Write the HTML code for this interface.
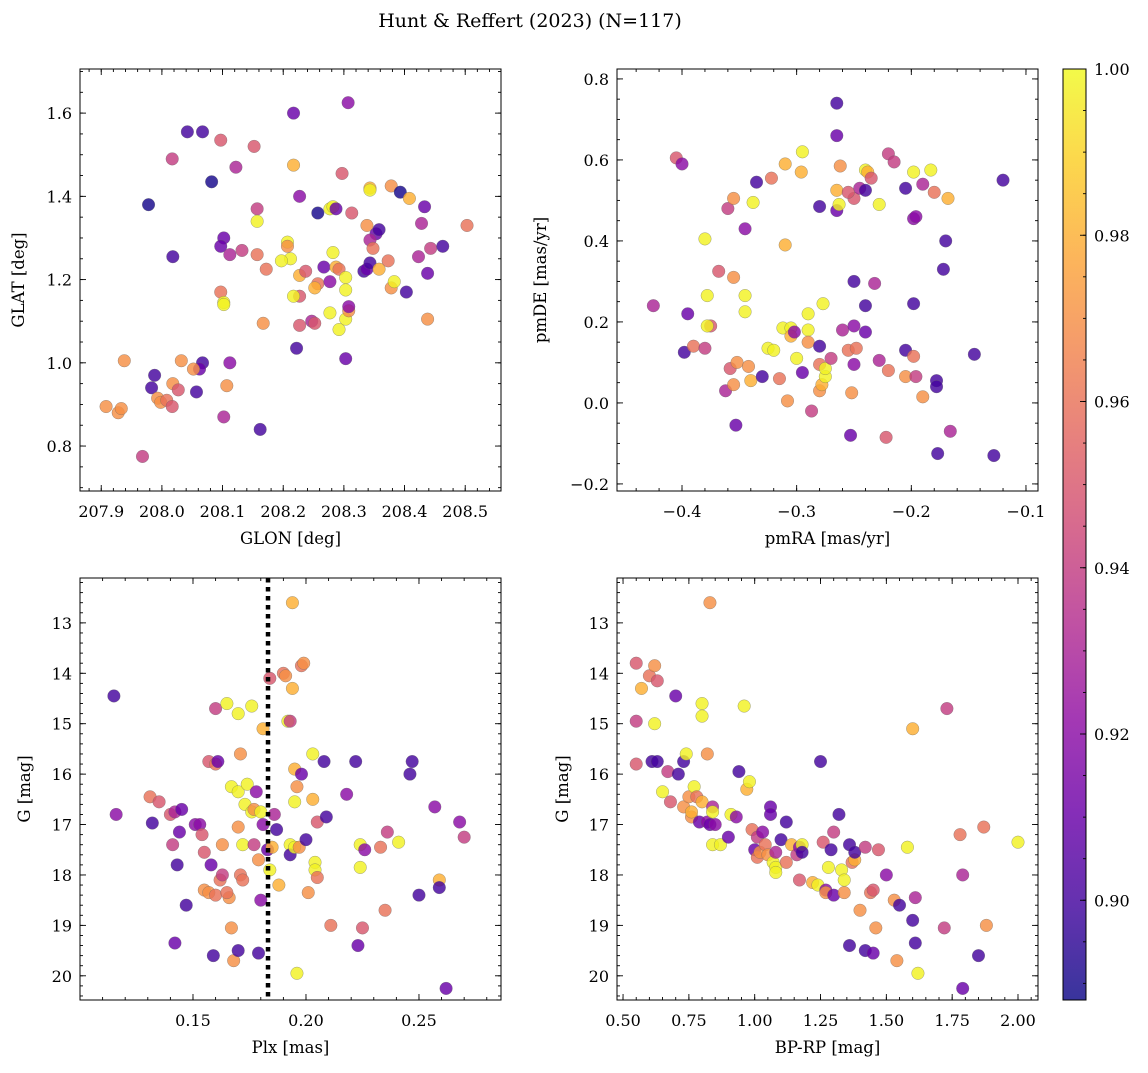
<!DOCTYPE html>
<html><head><meta charset="utf-8">
<style>
html,body{margin:0;padding:0;background:#fff;}
svg text{font-family:"DejaVu Serif","Liberation Serif",serif;fill:#000;}
</style></head>
<body>
<svg id="fig" width="1148" height="1068" viewBox="0 0 1148 1068" xmlns="http://www.w3.org/2000/svg">
<text x="530" y="27" font-size="19" text-anchor="middle">Hunt &amp; Reffert (2023) (N=117)</text>
<defs>
<linearGradient id="cbgrad" x1="0" y1="1" x2="0" y2="0">
<stop offset="0" stop-color="#0d0887"/><stop offset="0.1" stop-color="#41049d"/><stop offset="0.2" stop-color="#6a00a8"/><stop offset="0.3" stop-color="#8f0da4"/><stop offset="0.4" stop-color="#b12a90"/><stop offset="0.5" stop-color="#cc4778"/><stop offset="0.6" stop-color="#e16462"/><stop offset="0.7" stop-color="#f2844b"/><stop offset="0.8" stop-color="#fca636"/><stop offset="0.9" stop-color="#fcce25"/><stop offset="1" stop-color="#f0f921"/>
</linearGradient>
</defs>
</svg>
<script>
// ---- Panel 1: GLON / GLAT ----
const p1_glon=[207.978,208.042,208.067,208.082,208.017,208.097,208.152,208.122,208.217,208.307,208.102,208.097,208.112,208.132,208.157,208.157,208.157,208.172,208.207,208.207,208.212,208.217,208.227,208.197,208.227,208.237,208.227,208.217,208.257,208.267,208.277,208.282,208.287,208.282,208.297,208.313,208.257,208.252,208.277,208.287,208.292,208.303,208.303,208.277,208.292,208.303,208.308,208.308,208.247,208.252,208.227,208.222,208.303,208.338,208.343,208.343,208.378,208.393,208.408,208.353,208.358,208.343,208.348,208.333,208.338,208.343,208.358,208.378,208.373,208.383,208.403,208.433,208.428,208.423,208.443,208.438,208.463,208.503,208.438,208.167,208.097,208.102,208.102,208.018,208.067,208.062,208.052,208.032,208.018,207.983,207.988,207.938,207.993,207.998,208.008,208.017,208.027,208.057,208.112,208.107,208.102,207.908,207.928,207.933,207.968,208.162];
const p1_glat=[1.38,1.555,1.555,1.435,1.49,1.535,1.52,1.47,1.60,1.625,1.30,1.28,1.26,1.27,1.37,1.34,1.26,1.225,1.29,1.28,1.25,1.475,1.40,1.245,1.21,1.22,1.16,1.16,1.36,1.23,1.37,1.375,1.37,1.265,1.455,1.36,1.19,1.18,1.195,1.23,1.225,1.205,1.175,1.12,1.08,1.105,1.125,1.135,1.10,1.095,1.09,1.035,1.01,1.33,1.42,1.415,1.425,1.41,1.395,1.31,1.32,1.295,1.275,1.22,1.225,1.24,1.225,1.18,1.245,1.195,1.17,1.375,1.335,1.255,1.275,1.215,1.28,1.33,1.105,1.095,1.17,1.145,1.14,1.255,1.0,0.985,0.985,1.005,0.95,0.94,0.97,1.005,0.915,0.905,0.91,0.895,0.935,0.93,1.0,0.945,0.87,0.895,0.88,0.89,0.775,0.84];
const p1_c=[0.89,0.90,0.90,0.89,0.94,0.95,0.95,0.93,0.91,0.92,0.91,0.91,0.93,0.94,0.94,0.998,0.96,0.96,0.998,0.97,0.998,0.98,0.92,0.998,0.98,0.95,0.95,0.998,0.89,0.91,0.998,0.998,0.91,0.998,0.95,0.95,0.96,0.98,0.92,0.98,0.96,0.998,0.998,0.998,0.998,0.998,0.97,0.92,0.93,0.95,0.95,0.90,0.91,0.97,0.98,0.998,0.97,0.89,0.98,0.91,0.90,0.93,0.96,0.90,0.91,0.90,0.98,0.97,0.96,0.998,0.90,0.91,0.93,0.93,0.94,0.91,0.90,0.96,0.97,0.97,0.96,0.998,0.998,0.90,0.90,0.91,0.97,0.97,0.97,0.90,0.90,0.97,0.97,0.97,0.96,0.95,0.95,0.90,0.92,0.97,0.93,0.97,0.97,0.97,0.94,0.90];
const p1_xticks=["207.9","208.0","208.1","208.2","208.3","208.4","208.5"];
const p1_yticks=["0.8","1.0","1.2","1.4","1.6"];

// ---- Panel 2: pmRA / pmDE ----
const p2_pmra=[-0.405,-0.400,-0.425,-0.398,-0.395,-0.39,-0.38,-0.375,-0.378,-0.38,-0.378,-0.368,-0.36,-0.355,-0.355,-0.362,-0.358,-0.352,-0.355,-0.353,-0.345,-0.345,-0.345,-0.342,-0.34,-0.338,-0.335,-0.33,-0.325,-0.32,-0.322,-0.315,-0.312,-0.31,-0.31,-0.305,-0.305,-0.302,-0.30,-0.308,-0.296,-0.295,-0.29,-0.29,-0.295,-0.29,-0.287,-0.28,-0.28,-0.28,-0.28,-0.277,-0.278,-0.275,-0.275,-0.27,-0.265,-0.265,-0.265,-0.265,-0.263,-0.262,-0.26,-0.255,-0.25,-0.25,-0.25,-0.25,-0.252,-0.253,-0.248,-0.245,-0.24,-0.238,-0.24,-0.24,-0.24,-0.235,-0.232,-0.228,-0.228,-0.222,-0.22,-0.215,-0.22,-0.205,-0.205,-0.205,-0.198,-0.198,-0.196,-0.198,-0.198,-0.196,-0.19,-0.19,-0.183,-0.18,-0.178,-0.178,-0.177,-0.17,-0.172,-0.168,-0.166,-0.145,-0.12,-0.128,-0.255];
const p2_pmde=[0.605,0.59,0.24,0.125,0.22,0.14,0.135,0.19,0.19,0.405,0.265,0.325,0.48,0.505,0.31,0.03,0.085,0.10,0.045,-0.055,0.225,0.265,0.43,0.09,0.055,0.495,0.545,0.065,0.135,0.13,0.555,0.06,0.185,0.59,0.39,0.185,0.165,0.175,0.11,0.005,0.57,0.62,0.22,0.18,0.075,0.15,-0.02,0.14,0.485,0.095,0.03,0.245,0.045,0.065,0.085,0.11,0.525,0.74,0.66,0.475,0.49,0.585,0.18,0.13,0.505,0.30,0.19,0.095,0.025,-0.08,0.135,0.53,0.575,0.57,0.525,0.24,0.175,0.555,0.295,0.49,0.105,-0.085,0.615,0.595,0.08,0.53,0.13,0.065,0.57,0.455,0.46,0.245,0.115,0.065,0.54,0.015,0.575,0.52,0.055,0.04,-0.125,0.40,0.33,0.505,-0.07,0.12,0.55,-0.13,0.52];
const p2_c=[0.95,0.92,0.93,0.90,0.91,0.96,0.94,0.95,0.998,0.998,0.998,0.95,0.94,0.97,0.97,0.93,0.95,0.97,0.97,0.91,0.998,0.998,0.92,0.97,0.98,0.998,0.90,0.90,0.998,0.998,0.96,0.96,0.998,0.98,0.98,0.998,0.98,0.92,0.998,0.97,0.98,0.998,0.998,0.998,0.91,0.97,0.94,0.90,0.90,0.96,0.97,0.998,0.98,0.998,0.998,0.94,0.98,0.90,0.91,0.91,0.998,0.97,0.93,0.96,0.95,0.90,0.92,0.92,0.97,0.91,0.96,0.93,0.998,0.98,0.90,0.90,0.91,0.95,0.93,0.998,0.93,0.95,0.94,0.94,0.96,0.90,0.90,0.97,0.998,0.92,0.92,0.90,0.96,0.94,0.93,0.97,0.998,0.96,0.90,0.90,0.90,0.90,0.90,0.98,0.93,0.90,0.90,0.90,0.95];
const p2_xticks=["−0.4","−0.3","−0.2","−0.1"];
const p2_yticks=["−0.2","0.0","0.2","0.4","0.6","0.8"];

// ---- Panel 3: Plx / G ----
const p3_plx=[0.115,0.116,0.131,0.132,0.135,0.14,0.142,0.141,0.143,0.144,0.145,0.142,0.147,0.151,0.153,0.154,0.155,0.155,0.157,0.158,0.157,0.16,0.161,0.16,0.159,0.16,0.162,0.163,0.163,0.166,0.165,0.168,0.167,0.167,0.165,0.17,0.171,0.17,0.17,0.171,0.172,0.17,0.173,0.174,0.172,0.176,0.176,0.177,0.177,0.178,0.18,0.179,0.179,0.18,0.181,0.181,0.183,0.184,0.184,0.185,0.186,0.188,0.187,0.19,0.191,0.192,0.193,0.194,0.194,0.195,0.195,0.196,0.193,0.193,0.195,0.197,0.198,0.198,0.199,0.2,0.201,0.196,0.203,0.203,0.204,0.204,0.205,0.205,0.208,0.209,0.211,0.218,0.222,0.223,0.224,0.224,0.225,0.226,0.233,0.235,0.236,0.241,0.246,0.247,0.25,0.257,0.259,0.259,0.262,0.268,0.27];
const p3_g=[14.45,16.8,16.45,16.97,16.55,16.8,16.75,17.4,17.8,17.15,16.7,19.35,18.6,17.0,17.0,17.2,17.55,18.3,18.35,17.8,15.75,15.8,15.75,14.7,19.6,18.4,18.1,18.0,17.4,18.45,18.35,19.7,19.05,16.25,14.6,14.8,15.6,16.35,17.05,18.0,18.1,19.5,16.6,16.2,17.4,14.65,16.75,16.7,17.4,16.35,16.75,17.7,19.55,18.5,15.1,17.0,17.5,14.1,17.9,17.45,16.8,18.2,17.1,14.0,14.05,14.95,14.95,12.6,14.3,16.55,15.9,16.25,17.4,17.6,17.45,17.45,16.0,13.85,13.8,17.3,18.35,19.95,15.6,16.5,17.75,17.9,16.95,18.05,15.75,16.85,19.0,16.4,15.75,19.4,17.4,17.85,19.05,17.5,17.45,18.7,17.15,17.35,16.0,15.75,18.4,16.65,18.1,18.25,20.25,16.95,17.25];
const p3_c=[0.90,0.92,0.96,0.90,0.95,0.95,0.93,0.94,0.90,0.91,0.91,0.91,0.90,0.92,0.92,0.95,0.95,0.97,0.97,0.91,0.95,0.96,0.91,0.94,0.90,0.96,0.96,0.94,0.97,0.97,0.96,0.97,0.97,0.998,0.998,0.998,0.97,0.998,0.97,0.96,0.96,0.90,0.998,0.998,0.998,0.998,0.998,0.97,0.94,0.92,0.998,0.97,0.90,0.92,0.98,0.92,0.91,0.95,0.998,0.98,0.93,0.98,0.90,0.96,0.97,0.998,0.94,0.98,0.98,0.998,0.98,0.97,0.998,0.90,0.998,0.97,0.91,0.96,0.97,0.90,0.97,0.998,0.998,0.98,0.998,0.998,0.95,0.96,0.90,0.90,0.96,0.92,0.90,0.91,0.998,0.998,0.95,0.92,0.96,0.96,0.94,0.998,0.90,0.90,0.90,0.92,0.98,0.90,0.91,0.92,0.94];
const p3_xticks=["0.15","0.20","0.25"];
const p3_yticks=["13","14","15","16","17","18","19","20"];
const p3_plxline=[0.1832];

// ---- Panel 4: BP-RP / G ----
const p4_bprp=[0.55,0.55,0.55,0.57,0.6,0.62,0.63,0.61,0.63,0.62,0.65,0.67,0.68,0.7,0.71,0.73,0.74,0.73,0.75,0.76,0.77,0.76,0.78,0.79,0.8,0.8,0.8,0.82,0.82,0.83,0.84,0.84,0.84,0.85,0.87,0.83,0.9,0.91,0.93,0.94,0.96,0.97,0.98,0.99,1.0,1.01,1.01,1.03,1.02,1.04,1.05,1.06,1.06,1.07,1.08,1.08,1.08,1.1,1.12,1.12,1.14,1.16,1.17,1.17,1.18,1.18,1.22,1.24,1.25,1.26,1.27,1.27,1.28,1.29,1.3,1.3,1.32,1.33,1.34,1.34,1.36,1.36,1.37,1.38,1.38,1.4,1.42,1.42,1.44,1.45,1.45,1.46,1.47,1.5,1.53,1.54,1.55,1.58,1.6,1.6,1.61,1.61,1.62,1.72,1.73,1.78,1.79,1.79,1.85,1.87,1.88,2.0];
const p4_g=[13.8,14.95,15.8,14.3,14.05,13.85,14.15,15.75,15.75,15.0,16.35,15.95,16.55,14.45,16.0,15.75,15.6,16.65,16.45,16.85,16.25,16.75,16.45,16.95,16.55,14.6,14.85,15.6,16.95,17.0,16.65,16.75,17.4,17.0,17.4,12.6,17.25,16.8,16.85,15.95,14.65,16.3,16.15,17.1,17.5,17.25,17.65,17.15,17.55,17.4,17.6,16.65,16.8,17.75,17.85,17.95,17.55,17.3,17.75,16.95,17.4,17.6,17.45,18.1,17.4,17.55,18.15,18.2,15.75,17.35,18.3,18.35,17.85,17.5,17.15,18.4,16.8,17.9,18.35,18.1,17.4,19.4,17.75,17.7,17.55,18.7,17.45,19.5,18.35,18.3,19.55,19.05,17.5,18.0,18.5,19.7,18.6,17.45,15.1,18.9,18.45,19.35,19.95,19.05,14.7,17.2,18.0,20.25,19.6,17.05,19.0,17.35];
const p4_c=[0.95,0.94,0.95,0.98,0.96,0.97,0.95,0.90,0.90,0.998,0.998,0.94,0.95,0.91,0.90,0.90,0.998,0.97,0.97,0.97,0.998,0.98,0.96,0.91,0.98,0.998,0.998,0.97,0.92,0.91,0.93,0.998,0.998,0.92,0.998,0.97,0.91,0.998,0.92,0.90,0.998,0.98,0.998,0.96,0.91,0.94,0.96,0.92,0.97,0.96,0.97,0.91,0.91,0.998,0.998,0.998,0.93,0.90,0.96,0.90,0.98,0.94,0.92,0.95,0.998,0.90,0.98,0.998,0.90,0.95,0.92,0.97,0.998,0.90,0.94,0.91,0.90,0.998,0.97,0.998,0.90,0.90,0.96,0.98,0.90,0.97,0.94,0.90,0.96,0.95,0.91,0.97,0.95,0.92,0.97,0.97,0.90,0.998,0.98,0.90,0.93,0.90,0.998,0.94,0.94,0.96,0.93,0.91,0.90,0.96,0.97,0.998];
const p4_xticks=["0.50","0.75","1.00","1.25","1.50","1.75","2.00"];
const p4_yticks=p3_yticks;

// ---- Colorbar ----
const cb_range=[0.888,1.0];
const cb_ticks=["0.90","0.92","0.94","0.96","0.98","1.00"];

const NS="http://www.w3.org/2000/svg";
const svg=document.getElementById('fig');
function mk(tag,attrs,parent){const e=document.createElementNS(NS,tag);for(const k in attrs)e.setAttribute(k,attrs[k]);(parent||svg).appendChild(e);return e;}
const stops=[[13,8,135],[65,4,157],[106,0,168],[143,13,164],[177,42,144],[204,71,120],[225,100,98],[242,132,75],[252,166,54],[252,206,37],[240,249,33]];
function plasma(t){t=Math.max(0,Math.min(1,t));const f=t*10,i=Math.min(9,Math.floor(f)),r=f-i;const a=stops[i],b=stops[i+1];return 'rgb('+a.map((v,k)=>Math.round(v+(b[k]-v)*r)).join(',')+')';}
function cmap(c){return plasma((c-cb_range[0])/(cb_range[1]-cb_range[0]));}

function panel(o){
  const g=mk('g',{});
  
  
  const sx=v=>o.x0+(v-o.xd[0])/(o.xd[1]-o.xd[0])*(o.x1-o.x0);
  const sy=v=>o.inv? o.y0+(v-o.yd[0])/(o.yd[1]-o.yd[0])*(o.y1-o.y0) : o.y1-(v-o.yd[0])/(o.yd[1]-o.yd[0])*(o.y1-o.y0);
  const pts=mk('g',{},g);
  
  
  for(let i=0;i<o.xs.length;i++){
    const c=mk('circle',{cx:sx(o.xs[i]),cy:sy(o.ys[i]),r:6.3,fill:cmap(o.cs[i]),'fill-opacity':0.82,stroke:'#666','stroke-opacity':0.6,'stroke-width':0.5},pts);
    
    
  }
  if(o.vline){for(const v of o.vline){const l=mk('line',{x1:sx(v),x2:sx(v),y1:o.y0,y2:o.y1,stroke:'#000','stroke-width':4.5,'stroke-dasharray':'4.5,4.5'},g);
    
    }}
  const fr=mk('rect',{x:o.x0,y:o.y0,width:o.x1-o.x0,height:o.y1-o.y0,fill:'none',stroke:'#000','stroke-width':1},g);
  
  
  const tk=mk('g',{stroke:'#000','stroke-width':0.9},g);
  
  
  const eps=1e-9;
  for(let v=Math.ceil(o.xd[0]/o.xmin-eps)*o.xmin; v<=o.xd[1]; v+=o.xmin){const x=sx(v);mk('line',{x1:x,x2:x,y1:o.y1,y2:o.y1-3},tk);mk('line',{x1:x,x2:x,y1:o.y0,y2:o.y0+3},tk);}
  for(let v=Math.ceil(o.yd[0]/o.ymin-eps)*o.ymin; v<=o.yd[1]; v+=o.ymin){const y=sy(v);mk('line',{x1:o.x0,x2:o.x0+3,y1:y,y2:y},tk);mk('line',{x1:o.x1,x2:o.x1-3,y1:y,y2:y},tk);}
  o.xt.forEach(s=>{const v=parseFloat(s.replace('−','-'));const x=sx(v);mk('line',{x1:x,x2:x,y1:o.y1,y2:o.y1-6},tk);mk('line',{x1:x,x2:x,y1:o.y0,y2:o.y0+6},tk);
    const t=mk('text',{x:x,y:o.y1+26,'font-size':16,'text-anchor':'middle'},g);t.textContent=s;
    
    });
  o.yt.forEach(s=>{const v=parseFloat(s.replace('−','-'));const y=sy(v);mk('line',{x1:o.x0,x2:o.x0+6,y1:y,y2:y},tk);mk('line',{x1:o.x1,x2:o.x1-6,y1:y,y2:y},tk);
    const t=mk('text',{x:o.x0-8,y:y+6,'font-size':16,'text-anchor':'end'},g);t.textContent=s;
    
    });
  const xl=mk('text',{x:(o.x0+o.x1)/2,y:o.y1+53,'font-size':16.5,'text-anchor':'middle'},g);xl.textContent=o.xlabel;
  
  
  const yx=o.ylx, yy=(o.y0+o.y1)/2;
  const yl=mk('text',{x:yx,y:yy,'font-size':16.5,'text-anchor':'middle',transform:'rotate(-90 '+yx+' '+yy+')'},g);yl.textContent=o.ylabel;
  
  
}
panel({name:'glon-glat-panel',x0:80,x1:501,y0:69,y1:491,xd:[207.865,208.559],yd:[0.692,1.706],xs:p1_glon,ys:p1_glat,cs:p1_c,xt:p1_xticks,yt:p1_yticks,xmin:0.02,ymin:0.05,xlabel:'GLON [deg]',ylabel:'GLAT [deg]',ylx:24});
panel({name:'pm-panel',x0:617,x1:1038,y0:69,y1:491,xd:[-0.4567,-0.0895],yd:[-0.2175,0.8245],xs:p2_pmra,ys:p2_pmde,cs:p2_c,xt:p2_xticks,yt:p2_yticks,xmin:0.02,ymin:0.05,xlabel:'pmRA [mas/yr]',ylabel:'pmDE [mas/yr]',ylx:546});
panel({name:'plx-g-panel',x0:80,x1:501,y0:578,y1:1000,xd:[0.10,0.2863],yd:[12.11,20.48],inv:true,xs:p3_plx,ys:p3_g,cs:p3_c,xt:p3_xticks,yt:p3_yticks,xmin:0.01,ymin:0.2,xlabel:'Plx [mas]',ylabel:'G [mag]',ylx:30,vline:p3_plxline});
panel({name:'cmd-panel',x0:617,x1:1038,y0:578,y1:1000,xd:[0.477,2.076],yd:[12.11,20.48],inv:true,xs:p4_bprp,ys:p4_g,cs:p4_c,xt:p4_xticks,yt:p4_yticks,xmin:0.05,ymin:0.2,xlabel:'BP-RP [mag]',ylabel:'G [mag]',ylx:568});

// colorbar
const cb=mk('g',{});


const cx0=1063,cx1=1086,cy0=69,cy1=1000;
mk('rect',{x:cx0,y:cy0,width:cx1-cx0,height:cy1-cy0,fill:'url(#cbgrad)','fill-opacity':0.82},cb);
mk('rect',{x:cx0,y:cy0,width:cx1-cx0,height:cy1-cy0,fill:'none',stroke:'#000','stroke-width':1},cb);
const cby=v=>cy1-(v-cb_range[0])/(cb_range[1]-cb_range[0])*(cy1-cy0);
for(let v=0.89;v<=1.0001;v+=0.005){const y=cby(v);mk('line',{x1:cx1,x2:cx1-3,y1:y,y2:y,stroke:'#000','stroke-width':0.9},cb);}
cb_ticks.forEach(s=>{const y=cby(parseFloat(s));mk('line',{x1:cx1,x2:cx1-6,y1:y,y2:y,stroke:'#000','stroke-width':0.9},cb);
  const t=mk('text',{x:cx1+8,y:y+6,'font-size':16},cb);t.textContent=s;
  
  });
</script>
</body></html>
